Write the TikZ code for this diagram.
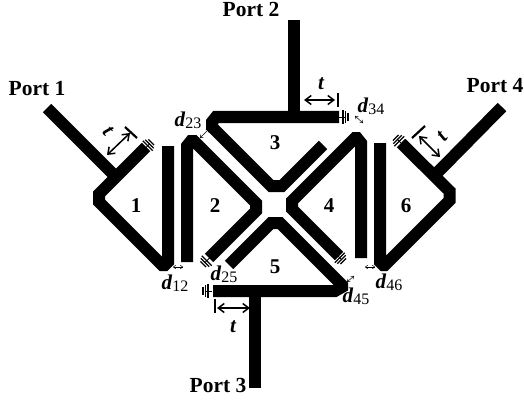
\documentclass[tikz,border=0pt]{standalone}
\usepackage{fontspec}
\setmainfont{Liberation Serif}
\usetikzlibrary{arrows.meta}
\tikzset{
  strip/.style={line width=12pt},
  portlabel/.style={font=\fontsize{21.5}{21.5}\selectfont\bfseries, inner sep=0pt},
  number/.style={font=\fontsize{21}{21}\selectfont\bfseries, inner sep=0pt},
  dlabel/.style={font=\fontsize{21}{21}\selectfont, inner sep=0pt},
  tlabel/.style={font=\fontsize{21}{21}\selectfont\bfseries\itshape, inner sep=0pt},
  dimarrow/.style={line width=1.5pt, {Straight Barb[length=6pt,width=9pt]}-{Straight Barb[length=6pt,width=9pt]}},
  dimbar/.style={line width=2.2pt},
  gaparrow/.style={line width=.5pt, {To[length=3pt,width=4pt]}-{To[length=3pt,width=4pt]}},
  endcap/.pic={
    \draw [line width=1pt] (-4,0) -- (3,0);
    \draw [line width=1.2pt] (-1,-7) -- (-1,7);
    \draw [line width=1.2pt] (-3.5,-6) -- (-3.5,6);
    \draw [line width=1.2pt] (-6,-4) -- (-6,4);
  }
}
\newcommand{\dd}[1]{\textbf{\textit{d}}\raisebox{-.25ex}{\fontsize{16}{16}\selectfont #1}}
\begin{document}
\begin{tikzpicture}[x=1pt,y=-1pt]
\useasboundingbox (0,0) rectangle (524,401);
% resonators
\draw [strip] (146,147) -- (99,194) -- (99,202) -- (162,265) -- (165,265) -- (168,262) -- (168,146);
\draw [strip] (187,262) -- (187,146) -- (191,141) -- (194,141) -- (256,203) -- (256,211) -- (209,258);
\draw [strip] (339,117) -- (216,117) -- (212,122) -- (212,127) -- (271,186) -- (282,186) -- (323,145);
\draw [strip] (339,256) -- (292,209) -- (292,201) -- (355,138) -- (357,138) -- (361,143) -- (361,258);
\draw [strip] (213,291) -- (335,291) -- (342,287) -- (342,285) -- (280,223) -- (271,223) -- (229,265);
\draw [strip] (380,143) -- (380,262) -- (383,265) -- (385,265) -- (449.5,200.5) -- (449.5,191) -- (401,143);
% ports
\draw [strip] (47,108) -- (113,174);
\draw [strip] (294,20) -- (294,117);
\draw [strip] (255,291) -- (255,388);
\draw [strip] (502,107) -- (436,174);
\node (port1) [portlabel] at (37,89) {Port 1};
\node (port2) [portlabel] at (251,9.5) {Port 2};
\node (port3) [portlabel] at (218,385) {Port 3};
\node (port4) [portlabel] at (495,86) {Port 4};
\node (res1) [number] at (136,206) {1};
\node (res2) [number] at (215,206) {2};
\node (res3) [number] at (275,143) {3};
\node (res4) [number] at (329,206) {4};
\node (res5) [number] at (275,267) {5};
\node (res6) [number] at (406,206) {6};
% gaps
\node (d23) [dlabel] at (188,120) {\dd{23}};
\node (d34) [dlabel] at (371,106) {\dd{34}};
\node (d12) [dlabel] at (175,283) {\dd{12}};
\node (d25) [dlabel] at (224,274) {\dd{25}};
\node (d45) [dlabel] at (356,296) {\dd{45}};
\node (d46) [dlabel] at (389,282) {\dd{46}};
\draw [gaparrow] (173,267) -- (183,267);
\draw [gaparrow] (365,267) -- (375,267);
\draw [gaparrow] (200,138) -- (209,129);
\draw [gaparrow] (355,116) -- (363,123);
\draw [gaparrow] (347,282) -- (354,276);
% open ends
\pic [rotate=-135] at (147,146.5) {endcap};
\pic [rotate=45] at (207.5,260) {endcap};
\pic [rotate=180] at (342,117) {endcap};
\pic at (209,291) {endcap};
\pic [rotate=135] at (339,257) {endcap};
\pic [rotate=-45] at (400,142) {endcap};
% widths
\node (t1) [tlabel, rotate=-50] at (108,131) {t};
\node (t2) [tlabel] at (321,84) {t};
\node (t3) [tlabel] at (233,327) {t};
\node (t4) [tlabel, rotate=50] at (442,137) {t};
\draw [dimarrow] (107,155) -- (130,133);
\draw [dimbar] (125,127) -- (137,138);
\draw [dimarrow] (304,100) -- (335,100);
\draw [dimbar] (338,93) -- (338,107);
\draw [dimarrow] (217,308) -- (250,308);
\draw [dimbar] (215,299) -- (215,313);
\draw [dimarrow] (419,136) -- (440,157);
\draw [dimbar] (412,138) -- (425,126);
\end{tikzpicture}
\end{document}
